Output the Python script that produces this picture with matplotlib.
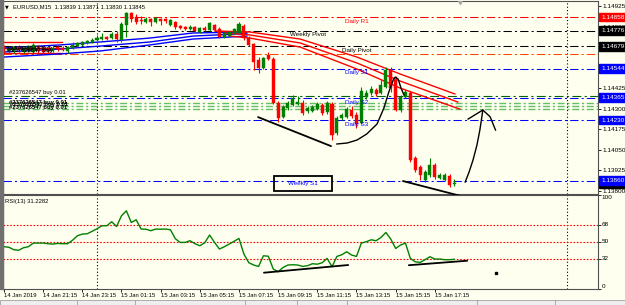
import numpy as np
import matplotlib.pyplot as plt
from matplotlib.patches import Rectangle
from matplotlib.transforms import blended_transform_factory as blend

plt.rcParams['font.family'] = ['Liberation Sans', 'DejaVu Sans']

# EURUSD M15, one bar every 15 min from 14 Jan 19:15 to 15 Jan 18:15
opens = [1.14675, 1.14651, 1.14651, 1.14675, 1.14651, 1.14657, 1.14645, 1.14681, 1.14669, 1.14663,
         1.14651, 1.14675, 1.14669, 1.14651, 1.14669, 1.14681, 1.14688, 1.14700, 1.14706, 1.14718,
         1.14724, 1.14736, 1.14730, 1.14755, 1.14718, 1.14810, 1.14883, 1.14858, 1.14840, 1.14828,
         1.14846, 1.14828, 1.14846, 1.14846, 1.14810, 1.14828, 1.14803, 1.14797, 1.14785, 1.14797,
         1.14767, 1.14791, 1.14779, 1.14810, 1.14785, 1.14736, 1.14742, 1.14761, 1.14761, 1.14803,
         1.14730, 1.14694, 1.14596, 1.14547, 1.14627, 1.14602, 1.14334, 1.14248, 1.14303, 1.14322,
         1.14328, 1.14334, 1.14285, 1.14285, 1.14297, 1.14322, 1.14279, 1.14328, 1.14151, 1.14242,
         1.14248, 1.14291, 1.14261, 1.14212, 1.14370, 1.14395, 1.14413, 1.14395, 1.14431, 1.14535,
         1.14474, 1.14291, 1.14370, 1.14395, 1.13998, 1.13943, 1.13864, 1.13895, 1.13956, 1.13876,
         1.13864, 1.13888, 1.13839]
highs = [1.14688, 1.14681, 1.14681, 1.14688, 1.14675, 1.14688, 1.14700, 1.14688, 1.14681, 1.14675,
         1.14681, 1.14681, 1.14681, 1.14681, 1.14706, 1.14706, 1.14712, 1.14718, 1.14730, 1.14749,
         1.14761, 1.14742, 1.14767, 1.14773, 1.14828, 1.14889, 1.14889, 1.14877, 1.14864, 1.14858,
         1.14852, 1.14858, 1.14852, 1.14852, 1.14846, 1.14834, 1.14810, 1.14803, 1.14810, 1.14803,
         1.14797, 1.14803, 1.14828, 1.14816, 1.14797, 1.14767, 1.14773, 1.14791, 1.14828, 1.14816,
         1.14742, 1.14700, 1.14614, 1.14614, 1.14645, 1.14614, 1.14346, 1.14322, 1.14346, 1.14383,
         1.14376, 1.14352, 1.14315, 1.14322, 1.14340, 1.14334, 1.14346, 1.14340, 1.14254, 1.14273,
         1.14309, 1.14315, 1.14279, 1.14431, 1.14413, 1.14437, 1.14425, 1.14474, 1.14553, 1.14556,
         1.14498, 1.14383, 1.14413, 1.14407, 1.14010, 1.13956, 1.13925, 1.13998, 1.13968, 1.13907,
         1.13907, 1.13901, 1.13871]
lows = [1.14633, 1.14639, 1.14639, 1.14645, 1.14639, 1.14645, 1.14633, 1.14639, 1.14633, 1.14639,
        1.14645, 1.14651, 1.14651, 1.14639, 1.14663, 1.14675, 1.14681, 1.14694, 1.14700, 1.14712,
        1.14718, 1.14718, 1.14724, 1.14706, 1.14706, 1.14736, 1.14828, 1.14816, 1.14816, 1.14822,
        1.14803, 1.14822, 1.14810, 1.14822, 1.14803, 1.14785, 1.14785, 1.14779, 1.14779, 1.14767,
        1.14761, 1.14773, 1.14773, 1.14773, 1.14730, 1.14730, 1.14736, 1.14755, 1.14755, 1.14718,
        1.14681, 1.14535, 1.14517, 1.14541, 1.14596, 1.14328, 1.14218, 1.14242, 1.14291, 1.14315,
        1.14322, 1.14261, 1.14273, 1.14279, 1.14291, 1.14261, 1.14267, 1.14108, 1.14139, 1.14230,
        1.14242, 1.14242, 1.14181, 1.14206, 1.14358, 1.14383, 1.14376, 1.14389, 1.14425, 1.14400,
        1.14285, 1.14279, 1.14364, 1.13974, 1.13913, 1.13864, 1.13852, 1.13882, 1.13870, 1.13870,
        1.13858, 1.13821, 1.13830]
closes = [1.14651, 1.14669, 1.14675, 1.14657, 1.14669, 1.14681, 1.14688, 1.14651, 1.14645, 1.14651,
          1.14669, 1.14663, 1.14657, 1.14675, 1.14688, 1.14700, 1.14706, 1.14712, 1.14718, 1.14730,
          1.14736, 1.14724, 1.14755, 1.14724, 1.14816, 1.14883, 1.14846, 1.14828, 1.14834, 1.14846,
          1.14828, 1.14852, 1.14834, 1.14834, 1.14840, 1.14797, 1.14791, 1.14785, 1.14797, 1.14773,
          1.14791, 1.14779, 1.14822, 1.14779, 1.14736, 1.14761, 1.14767, 1.14785, 1.14816, 1.14730,
          1.14688, 1.14584, 1.14547, 1.14608, 1.14602, 1.14334, 1.14242, 1.14309, 1.14334, 1.14364,
          1.14340, 1.14273, 1.14303, 1.14309, 1.14328, 1.14273, 1.14334, 1.14139, 1.14242, 1.14261,
          1.14297, 1.14254, 1.14206, 1.14407, 1.14395, 1.14419, 1.14389, 1.14444, 1.14535, 1.14425,
          1.14291, 1.14370, 1.14400, 1.13986, 1.13925, 1.13895, 1.13913, 1.13956, 1.13882, 1.13895,
          1.13895, 1.13834, 1.13845]
rsi13 = [44.7, 44.1, 41.5, 40.9, 43.6, 44.7, 48.6, 48.6, 48.6, 47.9,
         47.5, 48.2, 47.9, 47.9, 51.6, 56.4, 58.2, 58.5, 61.2, 63.9,
         67.1, 67.1, 71.4, 66.3, 77.8, 83.1, 70.6, 73.5, 63.6, 63.4,
         61.8, 63.6, 63.4, 63.6, 62.8, 53.2, 49.3, 49.3, 51.1, 47.9,
         45.7, 48.9, 57.2, 49.3, 42.2, 44.7, 47.5, 50.5, 53.5, 36.9,
         27.6, 25.1, 23.6, 35.0, 34.5, 20.8, 17.9, 22.5, 25.1, 25.4,
         25.1, 23.6, 24.4, 26.5, 26.0, 27.6, 32.2, 23.3, 34.3, 36.1,
         39.3, 35.8, 34.3, 48.6, 50.0, 52.1, 51.1, 54.6, 59.9, 52.9,
         42.8, 46.5, 48.6, 32.2, 28.6, 27.9, 30.8, 34.0, 31.5, 31.5,
         30.8, 30.8, 31.2]

time_ticks = [0, 8, 16, 24, 32, 40, 48, 56, 64, 72, 80, 88]
time_labels = ["14 Jan 2019", "14 Jan 21:15", "14 Jan 23:15", "15 Jan 01:15", "15 Jan 03:15",
               "15 Jan 05:15", "15 Jan 07:15", "15 Jan 09:15", "15 Jan 11:15", "15 Jan 13:15",
               "15 Jan 15:15", "15 Jan 17:15"]
day_breaks = [19, 115]
price_ticks = [1.13800, 1.13925, 1.14050, 1.14175, 1.14300, 1.14425, 1.14550, 1.14675, 1.14800, 1.14925]
hidden_ticks = [1.14550, 1.14675]   # covered by the level boxes

# pivot levels
level_names = ["Daily R1", "Weekly Pivot", "Daily Pivot", "Daily S1", "Daily S2", "Daily S3", "Weekly S1"]
level_prices = [1.14858, 1.14776, 1.14679, 1.14544, 1.14365, 1.14230, 1.13860]
level_colors = ["red", "black", "black", "blue", "blue", "blue", "blue"]
label_bars = [69.6, 58.4, 69.0, 69.6, 69.6, 69.6, 61.1]
extra_level = 1.14633
order_prices = [1.14376, 1.14334, 1.14315, 1.14297]
bid = 1.13845
rsi_levels = [32, 50, 68]

# envelope lines (bar, price)
blue_bars = [-0.2, 11.4, 19.6, 29.8, 38.6, 49.6]
blue_hi = [1.14669, 1.14688, 1.14706, 1.14730, 1.14761, 1.14767]
blue_mid = [1.14645, 1.14663, 1.14681, 1.14706, 1.14742, 1.14758]
blue_lo = [1.14614, 1.14633, 1.14651, 1.14688, 1.14724, 1.14742]
red_left_bars = [-0.2, 11.9]
red_left = [1.14706, 1.14672, 1.14639]
red_hi_bars = [43.1, 50.2, 60.5, 72.1, 80.9, 92.1]
red_hi = [1.14773, 1.14767, 1.14724, 1.14614, 1.14511, 1.14389]
red_mid_bars = [45.1, 50.2, 60.5, 72.1, 80.9, 92.7]
red_mid = [1.14761, 1.14749, 1.14700, 1.14578, 1.14468, 1.14340]
red_lo_bars = [46.2, 50.2, 60.5, 72.1, 80.9, 93.1]
red_lo = [1.14742, 1.14730, 1.14675, 1.14541, 1.14425, 1.14297]

# hand drawn lines
trend1 = ([51.9, 66.8], [1.14248, 1.14071])
curve_bars = [68.0, 70.1, 72.1, 74.1, 76.2, 77.6, 78.6, 79.5, 79.9, 80.5, 81.1, 81.7]
curve_px = [1.14084, 1.14090, 1.14108, 1.14145, 1.14206, 1.14303, 1.14401, 1.14474, 1.14492, 1.14480, 1.14425, 1.14383]
trend2 = ([81.5, 94.2], [1.13858, 1.13760])
arrow_bars = [94.2, 95.0, 95.8, 96.6, 97.2, 97.6, 97.8]
arrow_px = [1.13852, 1.13913, 1.13986, 1.14077, 1.14169, 1.14248, 1.14291]
head_bars = [94.8, 97.8, 99.3, 100.4]
head_px = [1.14236, 1.14291, 1.14250, 1.14169]
rsi_trend1 = ([53.1, 70.3], [16.9, 25.1])
rsi_trend2 = ([82.7, 94.6], [24.9, 29.7])

bg = '#FFFFF0'
fig = plt.figure(figsize=(6.25, 3.05), dpi=100, facecolor=bg)
ax = fig.add_axes([3/625, 111/305, 595/625, 193/305], facecolor=bg)
ax2 = fig.add_axes([3/625, 16.5/305, 595/625, 93.5/305], facecolor=bg)

dashdot = (0, (8, 3, 2, 3))

# levels
for p, c in zip(level_prices, level_colors):
    ax.axhline(p, color=c, lw=0.75, ls=dashdot, zorder=1)
ax.axhline(extra_level, color='#FF4500', lw=0.75, ls=dashdot, zorder=1)
ax.axhline(order_prices[0], color='#006400', lw=0.8, ls=dashdot, zorder=1)
for p in order_prices[1:]:
    ax.axhline(p, color='#3CB043', lw=1.0, ls=(0, (5, 2, 1.5, 2)), zorder=1, alpha=0.8)
for b in day_breaks:
    ax.axvline(b, color='black', lw=0.8, ls=(0, (1, 2)), zorder=1)
    ax2.axvline(b, color='black', lw=0.8, ls=(0, (1, 2)), zorder=1)

# envelopes
for yy in red_left:
    ax.plot(red_left_bars, [yy, yy], color='red', lw=1.0, zorder=2)
for yy in (blue_hi, blue_mid, blue_lo):
    ax.plot(blue_bars, yy, color='blue', lw=1.0, zorder=2)
ax.plot(red_hi_bars, red_hi, color='red', lw=1.0, zorder=2)
ax.plot(red_mid_bars, red_mid, color='red', lw=1.0, zorder=2)
ax.plot(red_lo_bars, red_lo, color='red', lw=1.0, zorder=2)

# candles
o, h, l, c = map(np.array, (opens, highs, lows, closes))
x = np.arange(len(c))
col = np.where(c >= o, '#008000', '#FF0000')
ax.vlines(x, l, h, colors=col, lw=0.8, zorder=4)
body = np.maximum(np.abs(c - o), 0.00003)
ax.bar(x, body, bottom=np.minimum(o, c), width=0.62, color=col, edgecolor=col, lw=0.3, zorder=5)

# level names
for name, p, c_, b in zip(level_names[:-1], level_prices[:-1], level_colors[:-1], label_bars[:-1]):
    ax.annotate(name, (b, p), xytext=(0, -1.2), textcoords='offset points', ha='left', va='top',
                fontsize=4.5, color=c_, zorder=6)
ax.add_patch(Rectangle((55.2, 1.13797), 11.8, 0.00091, fill=False, ec='black', lw=1.3, zorder=6,
                       clip_on=False))
ax.text(label_bars[-1], 1.13842, level_names[-1], ha='center', va='center', fontsize=4.5,
        color='blue', zorder=7)

# drawings
lk = dict(color='black', lw=1.3, zorder=7, solid_capstyle='round')
ax.plot(*trend1, **lk)
ax.plot(curve_bars, curve_px, color='black', lw=1.0, zorder=7)
ax.plot(*trend2, clip_on=False, **lk)
ax.plot(arrow_bars, arrow_px, color='black', lw=1.0, zorder=7)
ax.plot(head_bars, head_px, color='black', lw=1.0, zorder=7)
ax.plot([93.1], [1.14947], marker='v', ms=3, color='#A8A8A8', zorder=7)

# order labels
ax.text(1.0, 1.14400, "#237626547 buy 0.01", fontsize=4.2, va='center', zorder=8)
for dx, dy in [(0.0, 1.14340), (0.15, 1.14322), (0.0, 1.14305)]:
    ax.text(1.0 + dx, dy, "#237626547 buy 0.01", fontsize=4.2, va='center', zorder=8,
            fontweight='bold')
for dx, dy in [(0.6, 1.14669), (0.8, 1.14657)]:
    ax.text(dx, dy, "#237626547 buy", fontsize=4.2, va='center', zorder=8, fontweight='bold')

# header
ax.text(0.004, 0.982, "\u25BC", transform=ax.transAxes, fontsize=3.5, va='top', family='DejaVu Sans')
ax.text(0.017, 0.985, "EURUSD,M15  1.13839 1.13871 1.13830 1.13845", transform=ax.transAxes,
        fontsize=4.2, va='top')

ax.set_xlim(-0.2, 121.33)
ax.set_ylim(1.13779, 1.14956)
ax.set_xticks([])
ax.yaxis.tick_right()
ax.set_yticks(price_ticks)
ax.set_yticklabels(["" if p in hidden_ticks else f"{p:.5f}" for p in price_ticks])
ax.tick_params(axis='y', length=2, width=0.6, labelsize=4.6, pad=1.5)

# price boxes on the axis
tr = blend(ax.transAxes, ax.transData)
box_prices = level_prices[:6] + [bid, level_prices[6]]
box_colors = ['red', 'black', 'black', 'blue', 'blue', 'blue', 'black', 'blue']
for p, bc in zip(box_prices, box_colors):
    ax.annotate(f"{p:.5f}", (1, p), xycoords=tr, xytext=(2.2, 0), textcoords='offset points',
                ha='left', va='center', fontsize=4.6, color='white', annotation_clip=False,
                bbox=dict(boxstyle='square,pad=0.3', fc=bc, ec=bc), zorder=9)

# RSI panel
ax2.plot(x, rsi13, color='#008000', lw=1.0, zorder=3)
for lv in rsi_levels:
    ax2.axhline(lv, color='red', lw=0.8, ls=(0, (1.5, 1.5)), zorder=1)
ax2.plot(*rsi_trend1, **lk)
ax2.plot(*rsi_trend2, **lk)
ax2.plot([100.5], [16.6], marker='s', ms=1.5, color='black')
ax2.text(0.004, 0.96, "RSI(13) 31.2282", transform=ax2.transAxes, fontsize=4.2, va='top')
ax2.set_xlim(-0.2, 121.33)
ax2.set_ylim(0, 100)
ax2.yaxis.tick_right()
ax2.set_yticks([0, 32, 50, 68, 100])
ax2.set_yticklabels([])
ax2.tick_params(axis='y', length=2, width=0.6)
tr2 = blend(ax2.transAxes, ax2.transData)
for v, va in [(100, 'top'), (68, 'center'), (50, 'center'), (32, 'center'), (0, 'bottom')]:
    ax2.annotate(str(v), (1, v), xycoords=tr2, xytext=(2.5, 0), textcoords='offset points',
                 ha='left', va=va, fontsize=4.6, annotation_clip=False)
ax2.set_xticks(time_ticks)
ax2.set_xticklabels(time_labels, ha='left')
ax2.tick_params(axis='x', length=2, width=0.6, labelsize=4.2, pad=1)

for a in (ax, ax2):
    for s in a.spines.values():
        s.set_color('#505050')
        s.set_linewidth(0.8)

# window frame and bottom tabs
fig.add_artist(Rectangle((0, 16 / 305), 2.5 / 625, 1, transform=fig.transFigure, color='#707070'))
fig.add_artist(Rectangle((0, 0), 1, 5 / 305, transform=fig.transFigure, fc='#EEEEEE', ec='#A0A0A0', lw=0.6))
for tx in [77, 135, 245, 297, 347, 477, 555]:
    fig.add_artist(plt.Line2D([tx / 625, tx / 625], [0, 5 / 305], transform=fig.transFigure,
                              color='#A0A0A0', lw=0.6))

fig.savefig('out.png', dpi=100, facecolor=bg)
